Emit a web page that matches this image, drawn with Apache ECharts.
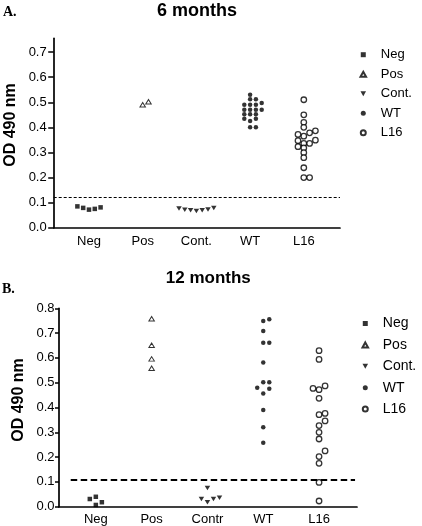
<!DOCTYPE html>
<html>
<head>
<meta charset="utf-8">
<script src="https://cdn.jsdelivr.net/npm/echarts@6/dist/echarts.min.js"></script>
<style>html,body{margin:0;padding:0;background:#fff}#c{width:422px;height:526px}</style>
</head>
<body>
<div id="c"></div>
<script>
// ---------- data ----------
const catsA = ['Neg', 'Pos', 'Cont.', 'WT', 'L16'];
const catsB = ['Neg', 'Pos', 'Contr', 'WT', 'L16'];
const legendNames = ['Neg', 'Pos', 'Cont.', 'WT', 'L16'];
const yTicksA = [0, 0.1, 0.2, 0.3, 0.4, 0.5, 0.6, 0.7];
const yTicksB = [0, 0.1, 0.2, 0.3, 0.4, 0.5, 0.6, 0.7, 0.8];
const cutoffA = 0.12;
const cutoffB = 0.11;

// 6 months
const negA = [0.072, 0.075, 0.079, 0.081, 0.085];
const posA = [0.49, 0.502];
const contA = [0.067, 0.07, 0.07, 0.073, 0.072, 0.079, 0.077];
const wtA = [0.53, 0.512, 0.512, 0.49, 0.49, 0.49, 0.497, 0.47, 0.47, 0.47, 0.47, 0.452, 0.452, 0.452, 0.425, 0.434, 0.434, 0.40, 0.40];
const l16A = [0.51, 0.45, 0.42, 0.40, 0.365, 0.378, 0.372, 0.386, 0.336, 0.336, 0.347, 0.349, 0.318, 0.323, 0.299, 0.279, 0.239, 0.20, 0.20];

// 12 months
const negB = [0.04, 0.007, 0.018, 0.031];
const posB = [0.758, 0.651, 0.596, 0.558];
const contB = [0.075, 0.018, 0.031, 0.031, 0.036];
const wtB = [0.749, 0.756, 0.708, 0.661, 0.661, 0.581, 0.502, 0.502, 0.456, 0.48, 0.476, 0.39, 0.32, 0.258];
const l16B = [0.629, 0.594, 0.472, 0.487, 0.477, 0.437, 0.371, 0.327, 0.376, 0.346, 0.30, 0.273, 0.202, 0.175, 0.225, 0.098, 0.023];

const groupsA = [negA, posA, contA, wtA, l16A];
const groupsB = [negB, posB, contB, wtB, l16B];

// ---------- layout helpers ----------
// simple beeswarm: points that would overlap vertically are pushed to side slots
function swarm(values, thr, step) {
  const placed = [];
  const order = [0, 1, -1, 2, -2, 3, -3, 4, -4, 5, -5];
  return values.map(v => {
    for (const s of order) {
      if (!placed.some(p => p.s === s && Math.abs(p.v - v) < thr - 1e-9)) {
        placed.push({ s, v });
        return s * step;
      }
    }
    return 0;
  });
}

const FONT = '"Liberation Sans", Arial, Helvetica, sans-serif';
const styles = [
  { symbol: 'path://M0,0H10V10H0Z', symbolSize: 4.5, itemStyle: { color: '#000' } },
  { symbol: 'path://M5,0L10,9L0,9Z', symbolSize: [5.5, 5], itemStyle: { color: '#fff', borderColor: '#000', borderWidth: 1 } },
  { symbol: 'path://M0,0L10,0L5,9Z', symbolSize: [5.5, 5], itemStyle: { color: '#000' } },
  { symbol: 'circle', symbolSize: 4.5, itemStyle: { color: '#000' } },
  { symbol: 'circle', symbolSize: 5.5, itemStyle: { color: '#fff', borderColor: '#000', borderWidth: 1.3 } }
];

function makeSeries(groups, axisIdx, thr, step, markLine) {
  return groups.map((vals, i) => {
    const offs = swarm(vals, thr, step);
    const s = Object.assign({
      type: 'scatter',
      name: legendNames[i],
      xAxisIndex: axisIdx,
      yAxisIndex: axisIdx,
      data: vals.map((v, k) => [i + offs[k], v]),
      emphasis: { disabled: true },
      symbolKeepAspect: true,
      silent: true,
      z: 3
    }, JSON.parse(JSON.stringify(styles[i])));
    if (i === 0 && markLine) s.markLine = markLine;
    return s;
  });
}

function xAxis(gridIndex, cats, min, max, margin) {
  return {
    type: 'value', gridIndex, min, max,
    axisLine: { show: true, onZero: false, lineStyle: { color: '#000', width: 1.7 } },
    axisTick: { show: false },
    splitLine: { show: false },
    axisLabel: {
      customValues: [0, 1, 2, 3, 4],
      formatter: v => cats[Math.round(v)],
      color: '#000', fontSize: 13, fontFamily: FONT, margin
    }
  };
}
function yAxis(gridIndex, ticks, max, tickLen, margin) {
  return {
    type: 'value', gridIndex, min: 0, max,
    axisLine: { show: true, onZero: false, lineStyle: { color: '#000', width: 1.7 } },
    axisTick: { show: true, customValues: ticks, length: tickLen, lineStyle: { color: '#000', width: 1.5 } },
    splitLine: { show: false },
    axisLabel: {
      customValues: ticks,
      formatter: v => v.toFixed(1),
      color: '#000', fontSize: 13, fontFamily: FONT, margin
    }
  };
}

const chart = echarts.init(document.getElementById('c'), null, { renderer: 'canvas' });
const option = {
  animation: false,
  backgroundColor: '#fff',
  grid: [
    { left: 53.7, top: 38.3, width: 286.3, height: 189.4, containLabel: false, outerBoundsMode: 'none' },
    { left: 59, top: 308.3, width: 298, height: 198.4, containLabel: false, outerBoundsMode: 'none' }
  ],
  xAxis: [
    xAxis(0, catsA, -0.657, 4.674, 7),
    xAxis(1, catsB, -0.66, 4.68, 6)
  ],
  yAxis: [
    yAxis(0, yTicksA, 0.755, 5.5, 7),
    yAxis(1, yTicksB, 0.8, 4, 4.5)
  ],
  legend: [
    {
      orient: 'vertical', left: 354.5, top: 42.7, itemWidth: 25, itemHeight: 5, itemGap: 5.5,
      data: legendNames, selectedMode: false, symbolKeepAspect: true,
      textStyle: { color: '#000', fontSize: 13, fontFamily: FONT, lineHeight: 14, padding: [0, 0, 0, 0] }
    },
    {
      orient: 'vertical', left: 356.5, top: 311, itemWidth: 25, itemHeight: 5, itemGap: 6.4,
      data: legendNames, selectedMode: false, symbolKeepAspect: true,
      textStyle: { color: '#000', fontSize: 14, fontFamily: FONT, lineHeight: 15, padding: [0, 0, 0, 0] }
    }
  ],
  series: [
    ...makeSeries(groupsA, 0, 0.015, 0.108, {
      silent: true, symbol: 'none', label: { show: false },
      lineStyle: { color: '#000', type: [3, 2], width: 1 },
      data: [{ yAxis: cutoffA }]
    }),
    ...makeSeries(groupsB, 1, 0.025, 0.108, {
      silent: true, symbol: 'none', label: { show: false },
      lineStyle: { color: '#000', type: [6.5, 3.5], width: 2.2 },
      data: [[{ xAxis: -0.45, yAxis: cutoffB }, { xAxis: 4.645, yAxis: cutoffB }]]
    })
  ],
  graphic: [
    { type: 'text', x: 3, y: 12, style: { text: 'A.', font: 'bold 14px "Liberation Serif", "Times New Roman", serif', fill: '#000', align: 'left', verticalAlign: 'middle' } },
    { type: 'text', x: 2, y: 289, style: { text: 'B.', font: 'bold 14px "Liberation Serif", "Times New Roman", serif', fill: '#000', align: 'left', verticalAlign: 'middle' } },
    { type: 'text', x: 197, y: 11, style: { text: '6 months', font: 'bold 18px ' + FONT, fill: '#000', align: 'center', verticalAlign: 'middle' } },
    { type: 'text', x: 208.3, y: 278.5, style: { text: '12 months', font: 'bold 17px ' + FONT, fill: '#000', align: 'center', verticalAlign: 'middle' } },
    { type: 'text', x: 10.5, y: 125, rotation: Math.PI / 2, style: { text: 'OD 490 nm', font: 'bold 16px ' + FONT, fill: '#000', align: 'center', verticalAlign: 'middle' } },
    { type: 'text', x: 18.5, y: 400, rotation: Math.PI / 2, style: { text: 'OD 490 nm', font: 'bold 16px ' + FONT, fill: '#000', align: 'center', verticalAlign: 'middle' } }
  ]
};
chart.setOption(option);
</script>
</body>
</html>
